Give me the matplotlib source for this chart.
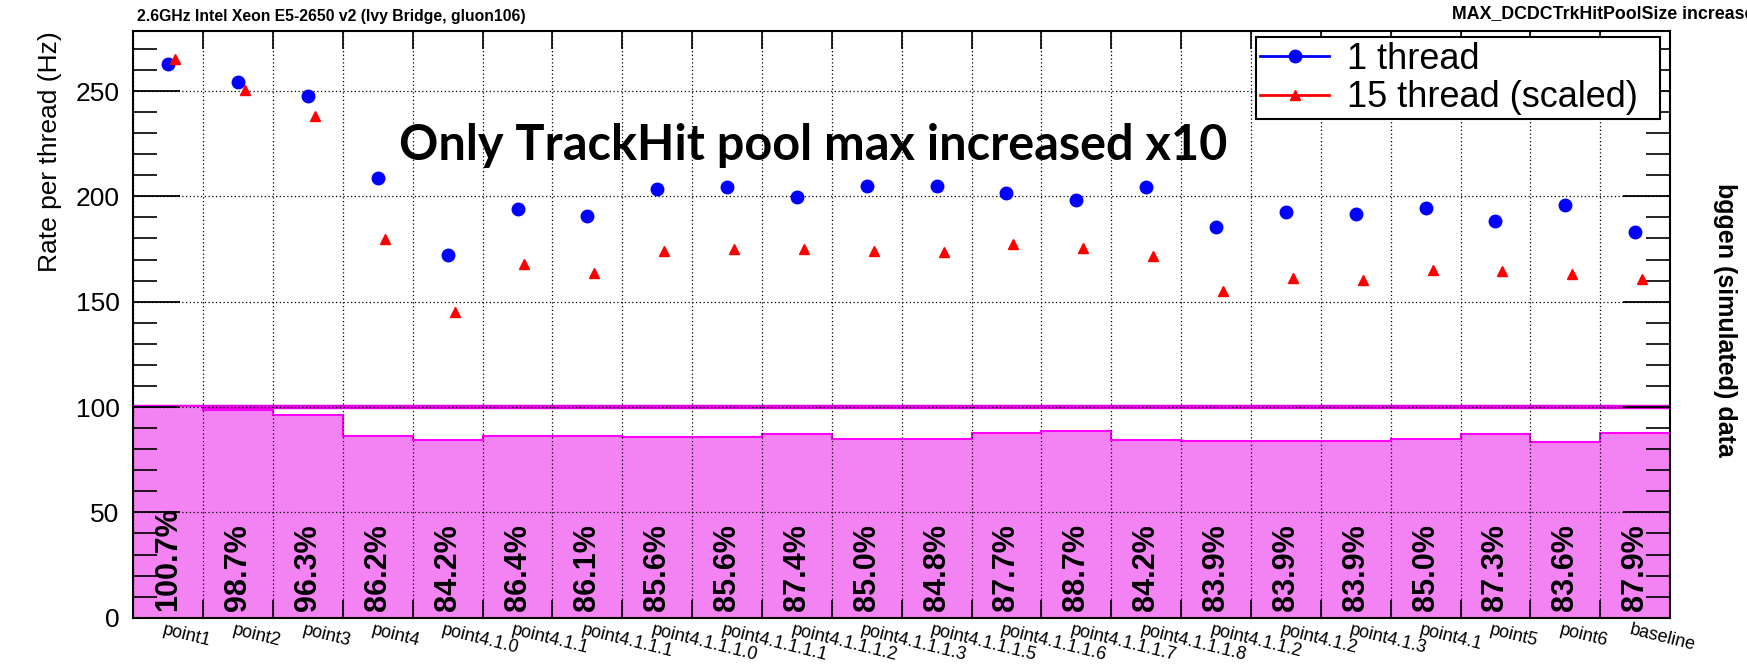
import numpy as np
import matplotlib
matplotlib.use('Agg')
import matplotlib.pyplot as plt
from matplotlib.lines import Line2D

categories = ['point1', 'point2', 'point3', 'point4', 'point4.1.0', 'point4.1.1',
              'point4.1.1.1', 'point4.1.1.1.0', 'point4.1.1.1.1', 'point4.1.1.1.2',
              'point4.1.1.1.3', 'point4.1.1.1.5', 'point4.1.1.1.6', 'point4.1.1.1.7',
              'point4.1.1.1.8', 'point4.1.1.2', 'point4.1.2', 'point4.1.3', 'point4.1',
              'point5', 'point6', 'baseline']
rate_1thread = [262.8, 254.2, 247.6, 208.5, 172.0, 194.0, 190.7, 203.5, 204.3, 199.8,
                204.9, 204.9, 201.8, 198.1, 204.3, 185.3, 192.7, 191.4, 194.4, 188.4,
                195.7, 182.9]
rate_15thread = [265.2, 250.3, 238.3, 179.7, 144.9, 167.7, 163.7, 174.2, 174.8, 174.8,
                 174.2, 173.6, 177.2, 175.6, 171.7, 155.2, 161.4, 160.3, 165.0, 164.4,
                 163.1, 160.6]
efficiency_pct = [100.7, 98.7, 96.3, 86.2, 84.2, 86.4, 86.1, 85.6, 85.6, 87.4, 85.0,
                  84.8, 87.7, 88.7, 84.2, 83.9, 83.9, 83.9, 85.0, 87.3, 83.6, 87.9]
y_major_ticks = [0, 50, 100, 150, 200, 250]

plt.rcParams['font.family'] = ['Liberation Sans', 'DejaVu Sans']

n = len(categories)
edges = np.arange(n + 1)
centers = np.arange(n) + 0.5

fig = plt.figure(figsize=(17.47, 6.67), dpi=100)
ax = fig.add_axes([0.0763, 0.0739, 0.8797, 0.880])
ax.set_xlim(0, n)
ax.set_ylim(0, 278.6)

pink = '#f383f3'
magenta = '#ff00ff'
# reference line at 100 %
ax.axhline(100, color='#e600e6', lw=3.2, zorder=1)
ax.bar(edges[:-1], efficiency_pct, width=1.0, align='edge', color=pink,
       edgecolor='none', zorder=2)
ax.stairs(efficiency_pct, edges, color=magenta, lw=1.5, zorder=2.5)

ax.grid(True, which='major', color='black', linestyle=(0, (1, 2)), lw=0.9, zorder=3)
ax.set_axisbelow(False)

ax.plot(centers, rate_1thread, linestyle='none', marker='o', ms=9, color='blue',
        zorder=5)
ax.plot(centers + 0.1, rate_15thread, linestyle='none', marker='^', ms=7.5,
        color='red', zorder=5)

for xc, p in zip(centers, efficiency_pct):
    ax.text(xc, 3.4, f'{p:.1f}%', rotation=90, ha='center', va='bottom',
            fontsize=22, fontweight='bold', zorder=6)

# axes ticks
ax.set_xticks(edges)
ax.set_xticklabels([])
ax.set_xticks(centers - 0.05, minor=True)
ax.set_xticklabels(categories, minor=True, rotation=-14, ha='left', va='top',
                   rotation_mode='anchor', fontsize=13)
ax.tick_params(axis='x', which='major', direction='in', length=13, width=1.2,
               top=True, bottom=True)
ax.tick_params(axis='x', which='minor', length=0, pad=3)
ax.set_yticks(y_major_ticks)
ax.set_yticks(np.arange(0, 280, 10), minor=True)
ax.tick_params(axis='y', which='major', direction='in', length=34, width=1.3,
               left=True, right=True, labelsize=19, pad=10)
ax.tick_params(axis='y', which='minor', direction='in', length=17, width=1.2,
               left=True, right=True)
for s in ax.spines.values():
    s.set_linewidth(1.5)

# legend
h1 = Line2D([], [], color='blue', marker='o', ms=9, lw=2)
h2 = Line2D([], [], color='red', marker='^', ms=7, lw=2)
leg = ax.legend([h1, h2], ['1 thread', '15 thread (scaled)'], loc='upper left',
                bbox_to_anchor=(0.7305, 0.856, 0.263, 0.133), mode='expand',
                borderaxespad=0, fontsize=26, frameon=True, fancybox=False,
                handlelength=1.9, handletextpad=0.5, labelspacing=0.1,
                borderpad=0.12)
leg.get_frame().set_edgecolor('black')
leg.get_frame().set_linewidth(1.5)
leg.get_frame().set_alpha(1)
leg.set_zorder(10)

# texts
fig.text(0.0285, 1 - 31 / 667, 'Rate per thread (Hz)', rotation=90, ha='center',
         va='top', fontsize=19)
fig.text(1725 / 1747, 1 - 320 / 667, 'bggen (simulated) data', rotation=-90,
         ha='center', va='center', fontsize=18, fontweight='bold')
fig.text(137 / 1747, 1 - 17 / 667, '2.6GHz Intel Xeon E5-2650 v2 (Ivy Bridge, gluon106)',
         ha='left', va='center', fontsize=11.3, fontweight='bold')
fig.text(1452 / 1747, 1 - 14 / 667, 'MAX_DCDCTrkHitPoolSize increased x10',
         ha='left', va='center', fontsize=12.8, fontweight='bold')
fig.text(813 / 1747, 1 - 145 / 667, 'Only TrackHit pool max increased x10',
         ha='center', va='center', fontsize=35, fontweight='bold',
         family=['Lato', 'DejaVu Sans'], zorder=7)

fig.savefig('out.png', dpi=100, facecolor='white')
